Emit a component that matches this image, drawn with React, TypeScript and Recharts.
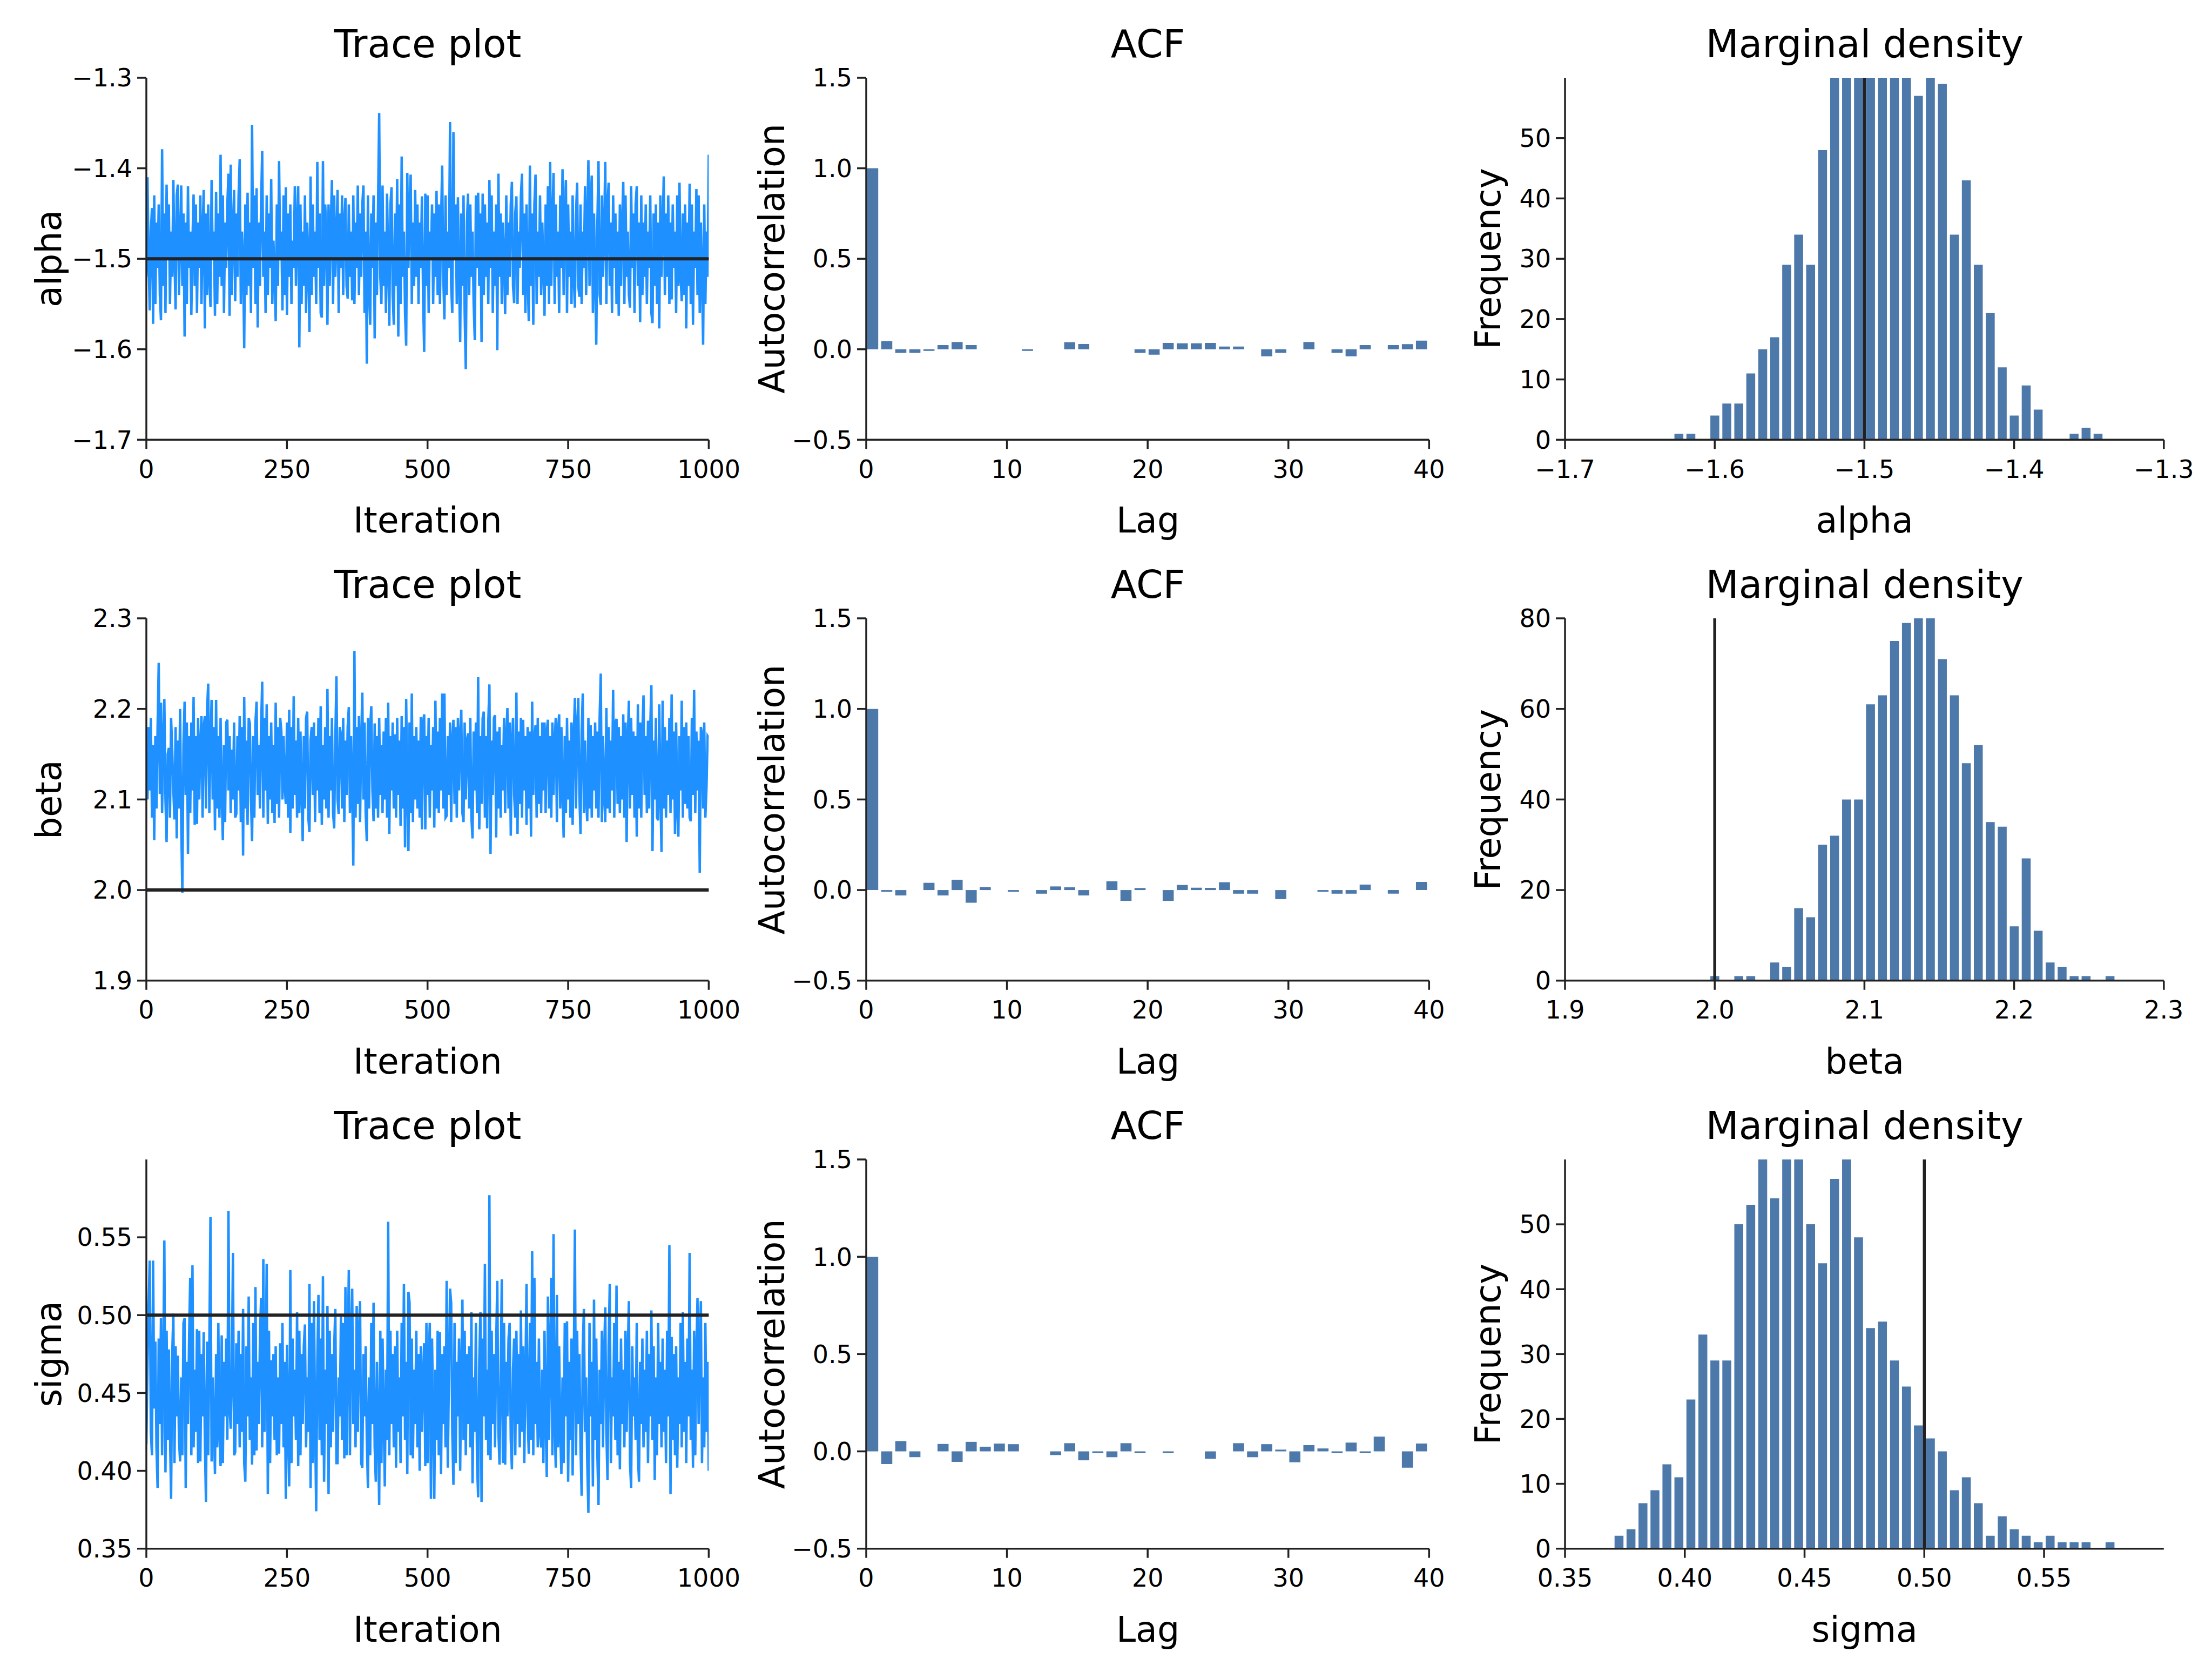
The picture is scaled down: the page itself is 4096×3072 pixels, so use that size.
import React from 'react';
import { LineChart, Line, BarChart, Bar, XAxis, YAxis, ReferenceLine } from 'recharts';

// ---------------- data ----------------
const TRACE_STEP = 2; // iterations between stored trace samples (0..1000)

const alphaTrace = [
-1.52,-1.41,-1.50,-1.557,-1.47,-1.444,-1.572,-1.43,-1.55,-1.46,-1.51,-1.44,-1.54,-1.568,-1.379,-1.53,-1.45,-1.56,-1.418,-1.50,
-1.44,-1.55,-1.47,-1.52,-1.413,-1.50,-1.556,-1.43,-1.418,-1.54,-1.48,-1.419,-1.53,-1.45,-1.586,-1.46,-1.55,-1.42,-1.51,-1.47,
-1.562,-1.48,-1.429,-1.53,-1.44,-1.56,-1.46,-1.51,-1.43,-1.55,-1.47,-1.424,-1.577,-1.45,-1.54,-1.44,-1.52,-1.553,-1.413,-1.50,
-1.47,-1.563,-1.426,-1.55,-1.45,-1.52,-1.385,-1.53,-1.43,-1.56,-1.46,-1.51,-1.44,-1.406,-1.563,-1.396,-1.54,-1.47,-1.424,-1.547,
-1.45,-1.52,-1.43,-1.39,-1.55,-1.47,-1.50,-1.599,-1.44,-1.54,-1.427,-1.53,-1.46,-1.56,-1.352,-1.51,-1.43,-1.55,-1.422,-1.576,
-1.46,-1.53,-1.44,-1.381,-1.52,-1.47,-1.560,-1.43,-1.54,-1.45,-1.51,-1.412,-1.55,-1.48,-1.52,-1.569,-1.44,-1.53,-1.392,-1.50,
-1.47,-1.557,-1.43,-1.54,-1.421,-1.562,-1.45,-1.52,-1.44,-1.55,-1.48,-1.51,-1.42,-1.53,-1.46,-1.420,-1.598,-1.44,-1.55,-1.47,
-1.53,-1.43,-1.56,-1.46,-1.50,-1.581,-1.409,-1.54,-1.44,-1.52,-1.47,-1.55,-1.393,-1.51,-1.45,-1.56,-1.565,-1.392,-1.53,-1.44,
-1.47,-1.573,-1.44,-1.53,-1.46,-1.413,-1.55,-1.43,-1.52,-1.48,-1.424,-1.56,-1.45,-1.51,-1.43,-1.54,-1.46,-1.433,-1.53,-1.544,
-1.44,-1.52,-1.47,-1.546,-1.43,-1.55,-1.46,-1.51,-1.419,-1.54,-1.45,-1.52,-1.44,-1.419,-1.56,-1.47,-1.616,-1.43,-1.53,-1.573,
-1.45,-1.51,-1.43,-1.588,-1.46,-1.54,-1.44,-1.339,-1.52,-1.55,-1.419,-1.53,-1.47,-1.56,-1.428,-1.50,-1.574,-1.44,-1.421,-1.54,
-1.573,-1.45,-1.53,-1.412,-1.586,-1.44,-1.55,-1.387,-1.52,-1.47,-1.56,-1.596,-1.405,-1.51,-1.44,-1.407,-1.55,-1.46,-1.53,-1.424,
-1.52,-1.44,-1.55,-1.46,-1.51,-1.431,-1.54,-1.603,-1.428,-1.53,-1.43,-1.56,-1.47,-1.50,-1.44,-1.55,-1.45,-1.52,-1.425,-1.54,
-1.44,-1.55,-1.46,-1.397,-1.52,-1.567,-1.43,-1.54,-1.47,-1.51,-1.349,-1.53,-1.56,-1.36,-1.50,-1.44,-1.55,-1.432,-1.52,-1.592,
-1.45,-1.53,-1.43,-1.56,-1.622,-1.46,-1.428,-1.54,-1.44,-1.52,-1.47,-1.55,-1.590,-1.43,-1.51,-1.427,-1.53,-1.45,-1.592,-1.428,
-1.54,-1.44,-1.52,-1.46,-1.55,-1.413,-1.51,-1.43,-1.56,-1.47,-1.53,-1.44,-1.601,-1.406,-1.52,-1.45,-1.55,-1.46,-1.50,-1.561,
-1.43,-1.54,-1.46,-1.52,-1.44,-1.415,-1.53,-1.549,-1.45,-1.431,-1.55,-1.47,-1.51,-1.43,-1.406,-1.54,-1.45,-1.56,-1.44,-1.52,
-1.569,-1.397,-1.53,-1.45,-1.573,-1.44,-1.407,-1.55,-1.47,-1.52,-1.43,-1.54,-1.46,-1.51,-1.563,-1.44,-1.53,-1.42,-1.55,-1.393,
-1.53,-1.46,-1.405,-1.55,-1.44,-1.52,-1.47,-1.56,-1.43,-1.51,-1.401,-1.54,-1.45,-1.413,-1.56,-1.44,-1.52,-1.47,-1.55,-1.43,
-1.52,-1.554,-1.45,-1.416,-1.53,-1.542,-1.44,-1.55,-1.47,-1.51,-1.42,-1.54,-1.46,-1.391,-1.53,-1.44,-1.408,-1.56,-1.45,-1.52,
-1.595,-1.46,-1.392,-1.54,-1.551,-1.43,-1.52,-1.47,-1.393,-1.55,-1.44,-1.416,-1.53,-1.46,-1.56,-1.43,-1.51,-1.45,-1.55,-1.47,
-1.563,-1.44,-1.53,-1.46,-1.415,-1.55,-1.43,-1.52,-1.47,-1.54,-1.554,-1.42,-1.51,-1.45,-1.56,-1.44,-1.420,-1.53,-1.46,-1.570,
-1.43,-1.54,-1.46,-1.52,-1.44,-1.55,-1.47,-1.51,-1.43,-1.56,-1.571,-1.45,-1.53,-1.44,-1.55,-1.46,-1.577,-1.43,-1.52,-1.47,
-1.409,-1.54,-1.45,-1.52,-1.43,-1.55,-1.46,-1.545,-1.44,-1.51,-1.47,-1.56,-1.43,-1.53,-1.416,-1.52,-1.547,-1.45,-1.54,-1.44,
-1.577,-1.46,-1.53,-1.417,-1.55,-1.44,-1.573,-1.47,-1.51,-1.423,-1.54,-1.43,-1.56,-1.46,-1.52,-1.595,-1.44,-1.55,-1.47,-1.52,
-1.385];

const betaTrace = [
2.153,2.10,2.18,2.11,2.19,2.08,2.16,2.055,2.17,2.09,2.18,2.251,2.106,2.207,2.085,2.165,2.211,2.10,2.053,2.15,
2.157,2.08,2.19,2.155,2.11,2.078,2.18,2.057,2.165,2.09,2.20,2.075,1.997,2.16,2.208,2.105,2.185,2.04,2.17,2.085,
2.185,2.11,2.213,2.072,2.17,2.073,2.19,2.10,2.16,2.192,2.08,2.18,2.192,2.09,2.20,2.228,2.085,2.165,2.21,2.10,
2.18,2.066,2.21,2.09,2.17,2.08,2.19,2.105,2.055,2.16,2.075,2.185,2.188,2.11,2.17,2.085,2.155,2.10,2.185,2.08,
2.084,2.17,2.11,2.192,2.075,2.18,2.038,2.213,2.09,2.165,2.072,2.19,2.184,2.10,2.054,2.17,2.08,2.185,2.208,2.105,
2.16,2.09,2.18,2.23,2.08,2.19,2.11,2.205,2.073,2.17,2.10,2.185,2.085,2.16,2.074,2.207,2.095,2.18,2.08,2.19,
2.176,2.10,2.17,2.115,2.095,2.185,2.08,2.199,2.063,2.18,2.09,2.214,2.105,2.165,2.08,2.19,2.085,2.175,2.11,2.054,
2.17,2.09,2.19,2.197,2.08,2.064,2.165,2.18,2.105,2.185,2.075,2.17,2.11,2.19,2.085,2.203,2.072,2.16,2.10,2.18,
2.09,2.222,2.08,2.17,2.11,2.19,2.085,2.068,2.165,2.236,2.10,2.084,2.18,2.171,2.09,2.19,2.075,2.165,2.105,2.18,
2.202,2.085,2.17,2.11,2.027,2.264,2.08,2.18,2.095,2.192,2.075,2.165,2.218,2.10,2.185,2.085,2.054,2.19,2.09,2.18,
2.203,2.11,2.076,2.184,2.09,2.17,2.08,2.19,2.105,2.16,2.085,2.175,2.10,2.19,2.08,2.207,2.062,2.17,2.11,2.185,
2.09,2.172,2.08,2.19,2.105,2.165,2.071,2.192,2.09,2.18,2.047,2.211,2.11,2.043,2.185,2.085,2.217,2.075,2.17,2.10,
2.18,2.09,2.165,2.08,2.191,2.067,2.185,2.194,2.067,2.17,2.105,2.19,2.08,2.16,2.11,2.18,2.069,2.209,2.09,2.175,
2.085,2.19,2.11,2.217,2.09,2.217,2.08,2.082,2.17,2.105,2.185,2.075,2.165,2.188,2.095,2.18,2.08,2.19,2.11,2.17,
2.199,2.085,2.075,2.185,2.10,2.165,2.173,2.09,2.19,2.08,2.057,2.175,2.11,2.185,2.085,2.235,2.067,2.17,2.095,2.19,
2.197,2.08,2.17,2.068,2.185,2.227,2.04,2.165,2.105,2.19,2.193,2.058,2.175,2.09,2.18,2.08,2.16,2.11,2.19,2.085,
2.17,2.201,2.09,2.185,2.06,2.165,2.19,2.105,2.08,2.218,2.062,2.175,2.095,2.19,2.08,2.188,2.11,2.17,2.072,2.18,
2.09,2.175,2.059,2.208,2.105,2.165,2.182,2.08,2.19,2.095,2.17,2.085,2.185,2.11,2.185,2.085,2.175,2.188,2.09,2.17,
2.08,2.185,2.105,2.165,2.19,2.075,2.175,2.194,2.09,2.18,2.11,2.058,2.17,2.085,2.19,2.10,2.165,2.08,2.185,2.072,
2.17,2.212,2.09,2.18,2.212,2.105,2.062,2.175,2.217,2.085,2.165,2.10,2.076,2.19,2.09,2.182,2.08,2.17,2.11,2.185,
2.09,2.175,2.08,2.19,2.239,2.075,2.17,2.105,2.075,2.201,2.09,2.18,2.085,2.165,2.11,2.221,2.08,2.185,2.189,2.095,
2.18,2.085,2.17,2.10,2.194,2.08,2.185,2.053,2.165,2.209,2.09,2.19,2.105,2.175,2.08,2.17,2.059,2.205,2.09,2.185,
2.08,2.175,2.215,2.105,2.17,2.085,2.187,2.09,2.18,2.226,2.043,2.165,2.10,2.19,2.08,2.077,2.205,2.11,2.042,2.209,
2.09,2.18,2.08,2.165,2.105,2.19,2.085,2.216,2.10,2.175,2.062,2.185,2.09,2.059,2.17,2.11,2.209,2.08,2.18,2.095,
2.185,2.09,2.17,2.08,2.076,2.19,2.105,2.221,2.085,2.175,2.11,2.165,2.019,2.18,2.173,2.09,2.185,2.08,2.113,2.17,
2.168];

const sigmaTrace = [
0.417,0.469,0.505,0.535,0.425,0.41,0.535,0.44,0.483,0.415,0.389,0.485,0.43,0.498,0.41,0.465,0.548,0.399,0.49,0.42,
0.478,0.425,0.382,0.475,0.501,0.405,0.48,0.435,0.474,0.42,0.406,0.46,0.41,0.495,0.498,0.389,0.47,0.43,0.485,0.524,
0.41,0.532,0.415,0.465,0.425,0.491,0.405,0.49,0.406,0.475,0.435,0.489,0.42,0.38,0.483,0.41,0.48,0.563,0.406,0.46,
0.43,0.398,0.475,0.415,0.495,0.425,0.403,0.487,0.405,0.47,0.435,0.485,0.42,0.567,0.44,0.427,0.465,0.540,0.41,0.412,
0.482,0.43,0.49,0.415,0.475,0.425,0.504,0.405,0.393,0.48,0.435,0.512,0.42,0.46,0.404,0.495,0.41,0.518,0.413,0.47,
0.43,0.485,0.511,0.415,0.536,0.425,0.465,0.533,0.385,0.49,0.405,0.471,0.435,0.475,0.42,0.48,0.41,0.46,0.411,0.482,
0.43,0.495,0.415,0.47,0.382,0.481,0.425,0.39,0.529,0.405,0.485,0.435,0.465,0.42,0.502,0.403,0.49,0.41,0.475,0.43,
0.48,0.494,0.415,0.46,0.425,0.52,0.389,0.495,0.405,0.509,0.435,0.374,0.47,0.513,0.42,0.485,0.41,0.525,0.393,0.465,
0.43,0.506,0.385,0.49,0.415,0.475,0.425,0.48,0.504,0.405,0.405,0.46,0.435,0.499,0.42,0.495,0.408,0.518,0.41,0.47,
0.529,0.41,0.485,0.517,0.43,0.465,0.415,0.506,0.425,0.49,0.509,0.405,0.402,0.475,0.435,0.48,0.42,0.389,0.46,0.41,
0.495,0.43,0.508,0.415,0.393,0.47,0.425,0.378,0.490,0.405,0.485,0.435,0.39,0.465,0.42,0.56,0.41,0.49,0.43,0.475,
0.415,0.48,0.402,0.490,0.425,0.46,0.405,0.495,0.435,0.52,0.42,0.47,0.398,0.515,0.508,0.41,0.485,0.408,0.465,0.43,
0.49,0.415,0.475,0.40,0.48,0.425,0.46,0.482,0.403,0.495,0.405,0.47,0.495,0.382,0.485,0.435,0.382,0.465,0.42,0.49,
0.41,0.489,0.398,0.475,0.43,0.48,0.415,0.522,0.402,0.46,0.517,0.508,0.425,0.391,0.495,0.405,0.47,0.435,0.485,0.40,
0.465,0.51,0.42,0.49,0.41,0.475,0.43,0.48,0.415,0.502,0.392,0.46,0.425,0.495,0.405,0.383,0.47,0.502,0.38,0.485,
0.435,0.533,0.42,0.465,0.41,0.577,0.407,0.49,0.43,0.475,0.415,0.48,0.522,0.425,0.404,0.46,0.523,0.405,0.495,0.404,
0.47,0.435,0.485,0.495,0.42,0.401,0.465,0.485,0.41,0.49,0.43,0.475,0.415,0.503,0.425,0.48,0.405,0.46,0.52,0.435,
0.411,0.495,0.42,0.541,0.41,0.524,0.43,0.47,0.415,0.485,0.425,0.415,0.465,0.405,0.49,0.435,0.396,0.512,0.42,0.475,
0.524,0.41,0.552,0.43,0.402,0.513,0.415,0.48,0.425,0.398,0.46,0.405,0.495,0.435,0.496,0.393,0.47,0.42,0.485,0.397,
0.465,0.555,0.41,0.49,0.43,0.475,0.415,0.384,0.48,0.504,0.425,0.46,0.405,0.373,0.495,0.435,0.47,0.39,0.51,0.42,
0.485,0.41,0.378,0.465,0.43,0.49,0.415,0.475,0.505,0.425,0.394,0.48,0.52,0.405,0.46,0.435,0.495,0.42,0.519,0.41,
0.47,0.401,0.485,0.43,0.465,0.415,0.49,0.425,0.475,0.509,0.405,0.389,0.48,0.435,0.46,0.42,0.495,0.41,0.393,0.47,
0.43,0.485,0.415,0.465,0.425,0.49,0.405,0.475,0.435,0.503,0.42,0.48,0.394,0.46,0.41,0.495,0.43,0.47,0.415,0.485,
0.425,0.465,0.405,0.49,0.435,0.545,0.385,0.486,0.42,0.475,0.41,0.48,0.402,0.46,0.43,0.495,0.415,0.502,0.425,0.47,
0.405,0.485,0.435,0.54,0.42,0.465,0.402,0.49,0.41,0.475,0.511,0.43,0.48,0.509,0.405,0.46,0.415,0.495,0.425,0.47,
0.40];

// autocorrelation, lags 0..39
const acfAlpha = [1.0,0.045,-0.02,-0.02,-0.009,0.023,0.04,0.023,0,0,0,-0.009,0,0,0.039,0.029,0,0,0,-0.02,-0.03,0.035,0.033,0.033,0.035,0.015,0.015,0,-0.039,-0.02,0,0.04,0,-0.02,-0.039,0.023,0,0.023,0.028,0.048];
const acfBeta = [1.0,-0.01,-0.03,0,0.04,-0.03,0.057,-0.07,0.016,0,-0.01,0,-0.02,0.02,0.015,-0.03,0,0.048,-0.06,0.011,0,-0.06,0.028,0.013,0.012,0.043,-0.02,-0.02,0,-0.05,0,0,-0.01,-0.02,-0.02,0.03,0,-0.02,0,0.045];
const acfSigma = [1.0,-0.065,0.053,-0.03,0,0.038,-0.054,0.049,0.024,0.04,0.037,0,0,-0.019,0.042,-0.046,-0.009,-0.03,0.042,-0.009,0,-0.009,0,0,-0.038,0,0.042,-0.03,0.037,0.009,-0.056,0.032,0.015,-0.009,0.045,-0.009,0.076,0,-0.084,0.04];

// histogram counts (bin start, bin width, counts)
const alphaBinStart = -1.628;
const alphaBinWidth = 0.008;
const alphaCounts = [1,1,0,4,6,6,11,15,17,29,34,29,48,63,66,68,70,67,65,64,57,62,59,34,43,29,21,12,4,9,5,0,0,1,2,1];
const betaBinStart = 1.996;
const betaBinWidth = 0.008;
const betaCounts = [1,0,1,1,0,4,3,16,14,30,32,40,40,61,63,75,79,80,80,71,63,48,52,35,34,12,27,11,4,3,1,1,0,1];
const sigmaBinStart = 0.37;
const sigmaBinWidth = 0.005;
const sigmaCounts = [2,3,7,9,13,11,23,33,29,29,50,53,62,54,63,61,50,44,57,64,48,34,35,29,25,19,17,15,9,11,7,2,5,3,2,1,2,1,1,1,0,1];

const trueAlpha = -1.5;
const trueBeta = 2.0;
const trueSigma = 0.5;

const traceXTicks = [0, 250, 500, 750, 1000];
const acfXTicks = [0, 10, 20, 30, 40];
const acfYTicks = [-0.5, 0, 0.5, 1.0, 1.5];
const alphaTicks = [-1.7, -1.6, -1.5, -1.4, -1.3];
const betaTicks = [1.9, 2.0, 2.1, 2.2, 2.3];
const sigmaTicks = [0.35, 0.40, 0.45, 0.50, 0.55];
const freqTicks60 = [0, 10, 20, 30, 40, 50];
const freqTicks80 = [0, 20, 40, 60, 80];

// ---------------- style ----------------
const FONT = 'DejaVu Sans';
const AX = '#222222';
const TRACE_COLOR = '#1E90FF';
const BAR_COLOR = '#4C78AA';
const TICK_FS = 46;
const LABEL_FS = 65;
const TITLE_FS = 71;

const COLS = [
  { left: 271.2, w: 1041.4 },
  { left: 1604.4, w: 1042.3 },
  { left: 2898.3, w: 1108.8 },
];
const ROWS = [
  { top: 143.7, h: 670.3 },
  { top: 1145.2, h: 670.8 },
  { top: 2147.0, h: 720.7 },
];
const YLABEL_X = [113, 1452, 2778];

const ML = 200, MT = 30, MR = 90, MB = 110;

const fmt = (d: number) => (v: number) => v.toFixed(d).replace('-', '\u2212');

const axisCommon = {
  axisLine: { stroke: AX, strokeWidth: 3.5 },
  tickLine: { stroke: AX, strokeWidth: 3.5 },
  tick: { fontSize: TICK_FS, fontFamily: FONT, fill: '#000' },
  tickSize: 17,
  interval: 0 as const,
  allowDataOverflow: true,
};

function Frame({ col, row, children }: { col: number; row: number; children: React.ReactNode }) {
  const c = COLS[col], r = ROWS[row];
  return (
    <div style={{ position: 'absolute', left: c.left - ML, top: r.top - MT }}>
      {children}
    </div>
  );
}

function TracePanel({ row, values, domain, ticks, digits, truth }: any) {
  const c = COLS[0], r = ROWS[row];
  const data = values.map((y: number, i: number) => ({ x: i * TRACE_STEP, y }));
  return (
    <Frame col={0} row={row}>
      <LineChart width={c.w + ML + MR} height={r.h + MT + MB} data={data}
        margin={{ top: MT, right: MR, bottom: 0, left: 0 }}>
        <XAxis type="number" dataKey="x" domain={[0, 1000]} ticks={traceXTicks} height={MB}
          tickMargin={21} {...axisCommon} />
        <YAxis type="number" domain={domain} ticks={ticks} width={ML} tickMargin={9}
          tickFormatter={fmt(digits)} {...axisCommon} />
        <Line type="linear" dataKey="y" stroke={TRACE_COLOR} strokeWidth={4.5} dot={false}
          isAnimationActive={false} />
        <ReferenceLine y={truth} stroke={AX} strokeWidth={6} />
      </LineChart>
    </Frame>
  );
}

function AcfPanel({ row, values }: any) {
  const c = COLS[1], r = ROWS[row];
  const data = values.map((v: number, lag: number) => ({ x: lag + 0.45, v }));
  return (
    <Frame col={1} row={row}>
      <BarChart width={c.w + ML + MR} height={r.h + MT + MB} data={data}
        margin={{ top: MT, right: MR, bottom: 0, left: 0 }}>
        <XAxis type="number" dataKey="x" domain={[0, 40]} ticks={acfXTicks} height={MB}
          tickMargin={21} {...axisCommon} />
        <YAxis type="number" domain={[-0.5, 1.5]} ticks={acfYTicks} width={ML} tickMargin={9}
          tickFormatter={fmt(1)} {...axisCommon} />
        <Bar dataKey="v" fill={BAR_COLOR} barSize={20.5} isAnimationActive={false} />
      </BarChart>
    </Frame>
  );
}

function HistPanel({ row, start, width, counts, xDomain, xTicks, xDigits, yMax, yTicks, truth }: any) {
  const c = COLS[2], r = ROWS[row];
  const data = counts.map((n: number, i: number) => ({ x: start + (i + 0.5) * width, n }));
  return (
    <Frame col={2} row={row}>
      <BarChart width={c.w + ML + MR} height={r.h + MT + MB} data={data}
        margin={{ top: MT, right: MR, bottom: 0, left: 0 }}>
        <XAxis type="number" dataKey="x" domain={xDomain} ticks={xTicks} height={MB}
          tickMargin={21} tickFormatter={fmt(xDigits)} {...axisCommon} />
        <YAxis type="number" domain={[0, yMax]} ticks={yTicks} width={ML} tickMargin={9}
          {...axisCommon} />
        <Bar dataKey="n" fill={BAR_COLOR} barSize={16.5} isAnimationActive={false} />
        <ReferenceLine x={truth} stroke={AX} strokeWidth={5.5} />
      </BarChart>
    </Frame>
  );
}

export default function App() {
  const titles = ['Trace plot', 'ACF', 'Marginal density'];
  const xLabels = [['Iteration', 'Lag', 'alpha'], ['Iteration', 'Lag', 'beta'], ['Iteration', 'Lag', 'sigma']];
  const yLabels = [['alpha', 'Autocorrelation', 'Frequency'], ['beta', 'Autocorrelation', 'Frequency'], ['sigma', 'Autocorrelation', 'Frequency']];
  const texts: React.ReactNode[] = [];
  ROWS.forEach((r, ri) => {
    COLS.forEach((c, ci) => {
      const cx = c.left + c.w / 2;
      const cy = r.top + r.h / 2;
      texts.push(
        <text key={`t${ri}${ci}`} x={cx} y={r.top - 38} textAnchor="middle" fontSize={TITLE_FS} fontFamily={FONT} fill="#000">{titles[ci]}</text>
      );
      texts.push(
        <text key={`x${ri}${ci}`} x={cx} y={r.top + r.h + 172} textAnchor="middle" fontSize={LABEL_FS} fontFamily={FONT} fill="#000">{xLabels[ri][ci]}</text>
      );
      const bx = YLABEL_X[ci];
      texts.push(
        <text key={`y${ri}${ci}`} x={bx} y={cy} textAnchor="middle" transform={`rotate(-90 ${bx} ${cy})`} fontSize={LABEL_FS} fontFamily={FONT} fill="#000">{yLabels[ri][ci]}</text>
      );
    });
  });

  return (
    <div style={{ position: 'absolute', left: 0, top: 0, width: 4096, height: 3072, background: '#fff', overflow: 'hidden', fontFamily: FONT }}>
      <TracePanel row={0} values={alphaTrace} domain={[-1.7, -1.3]} ticks={alphaTicks} digits={1} truth={trueAlpha} />
      <TracePanel row={1} values={betaTrace} domain={[1.9, 2.3]} ticks={betaTicks} digits={1} truth={trueBeta} />
      <TracePanel row={2} values={sigmaTrace} domain={[0.35, 0.6]} ticks={sigmaTicks} digits={2} truth={trueSigma} />
      <AcfPanel row={0} values={acfAlpha} />
      <AcfPanel row={1} values={acfBeta} />
      <AcfPanel row={2} values={acfSigma} />
      <HistPanel row={0} start={alphaBinStart} width={alphaBinWidth} counts={alphaCounts}
        xDomain={[-1.7, -1.3]} xTicks={alphaTicks} xDigits={1} yMax={60} yTicks={freqTicks60} truth={trueAlpha} />
      <HistPanel row={1} start={betaBinStart} width={betaBinWidth} counts={betaCounts}
        xDomain={[1.9, 2.3]} xTicks={betaTicks} xDigits={1} yMax={80} yTicks={freqTicks80} truth={trueBeta} />
      <HistPanel row={2} start={sigmaBinStart} width={sigmaBinWidth} counts={sigmaCounts}
        xDomain={[0.35, 0.6]} xTicks={sigmaTicks} xDigits={2} yMax={60} yTicks={freqTicks60} truth={trueSigma} />
      <svg width={4096} height={3072} style={{ position: 'absolute', left: 0, top: 0, pointerEvents: 'none' }}>
        {texts}
      </svg>
    </div>
  );
}
